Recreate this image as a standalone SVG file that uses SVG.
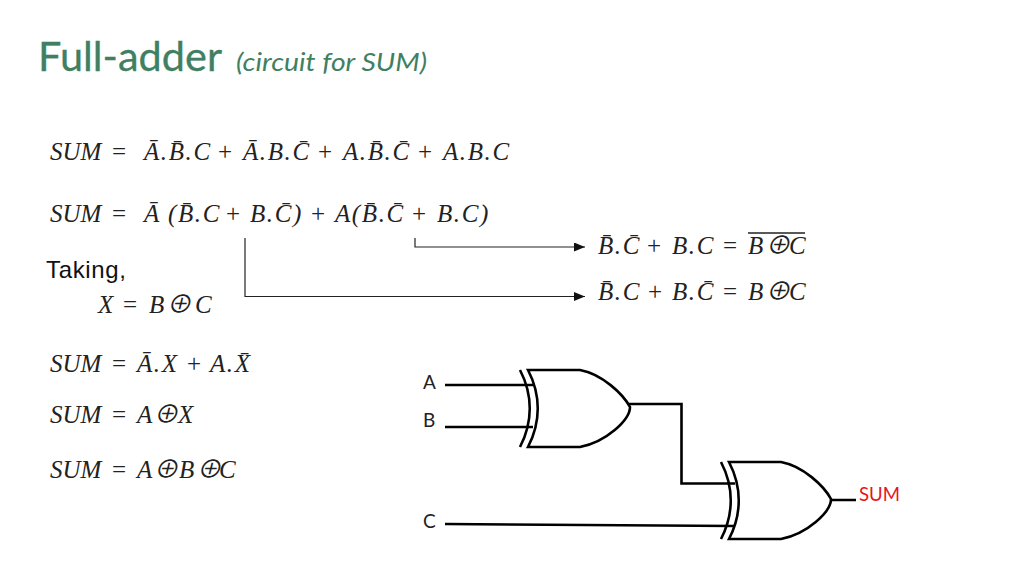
<svg xmlns="http://www.w3.org/2000/svg" width="1024" height="576" viewBox="0 0 1024 576">
<style>
.m{font-family:"Liberation Serif","DejaVu Serif",serif;font-style:italic;font-size:25px;fill:#222}
.n{font-style:normal}
.s{letter-spacing:1.6px}
.x{font-family:"Noto Sans CJK SC","DejaVu Sans",sans-serif;font-size:25px}
.l{font-family:Lato,"Liberation Sans",sans-serif;font-size:19px;fill:#222}
.g{fill:none;stroke:#000;stroke-width:2.6}
.w{fill:none;stroke:#000;stroke-width:2.6}
.t{fill:none;stroke:#222;stroke-width:1.2}
.o{stroke:#222;stroke-width:1.3}
</style>
<defs>
<marker id="ah" markerUnits="userSpaceOnUse" markerWidth="11" markerHeight="9" refX="11" refY="4.500" orient="auto"><path d="M0 0L11 4.500L0 9Z" fill="#111"/></marker>
<g id="xor"><path class="g" d="M0 0H52C74 4 95 24 102 37C102 50 78 72 52 77H0C13 52 13 25 0 0Z"/><path class="g" d="M-8 0C5 25 5 52 -8 77"/></g>
</defs>
<rect width="1024" height="576" fill="#fff"/>
<g id="title">
<text x="38" y="71" font-family="Lato,'Liberation Sans',sans-serif" font-size="40" fill="#3f8062" stroke="#3f8062" stroke-width="0.3" textLength="184" lengthAdjust="spacingAndGlyphs">Full-adder</text>
<text x="236" y="71" font-family="Lato,'Liberation Sans',sans-serif" font-size="26" font-style="italic" fill="#3f8062" textLength="191" lengthAdjust="spacingAndGlyphs">(circuit for SUM)</text>
</g>
<g id="equations">
<text class="m" y="160"><tspan x="50">SUM</tspan><tspan x="112" class="n">=</tspan><tspan x="144" class="s">Ā.B̄.C</tspan><tspan x="218" class="n">+</tspan><tspan x="243" class="s">Ā.B.C̄</tspan><tspan x="318" class="n">+</tspan><tspan x="343" class="s">A.B̄.C̄</tspan><tspan x="418" class="n">+</tspan><tspan x="443" class="s">A.B.C</tspan></text>
<text class="m" y="222"><tspan x="50">SUM</tspan><tspan x="112" class="n">=</tspan><tspan x="144">Ā</tspan><tspan x="168" class="s">(B̄.C</tspan><tspan x="226" class="n">+</tspan><tspan x="250" class="s">B.C̄)</tspan><tspan x="311" class="n">+</tspan><tspan x="335" class="s">A(B̄.C̄</tspan><tspan x="412" class="n">+</tspan><tspan x="437" class="s">B.C)</tspan></text>
<text class="m" y="313"><tspan x="98">X</tspan><tspan x="123" class="n">=</tspan><tspan x="149">B</tspan><tspan x="166" class="x">⊕</tspan><tspan x="195">C</tspan></text>
<text class="m" y="372"><tspan x="50">SUM</tspan><tspan x="112" class="n">=</tspan><tspan x="137" class="s">Ā.X</tspan><tspan x="187" class="n">+</tspan><tspan x="210" class="s">A.X̄</tspan></text>
<text class="m" y="423"><tspan x="50">SUM</tspan><tspan x="112" class="n">=</tspan><tspan x="137">A</tspan><tspan x="153" class="x">⊕</tspan><tspan x="178">X</tspan></text>
<text class="m" y="478"><tspan x="50">SUM</tspan><tspan x="112" class="n">=</tspan><tspan x="137">A</tspan><tspan x="153" class="x">⊕</tspan><tspan x="179">B</tspan><tspan x="196" class="x">⊕</tspan><tspan x="219">C</tspan></text>
<text class="m" y="254"><tspan x="598" class="s">B̄.C̄</tspan><tspan x="647" class="n">+</tspan><tspan x="672" class="s">B.C</tspan><tspan x="723" class="n">=</tspan><tspan x="748">B</tspan><tspan x="765" class="x">⊕</tspan><tspan x="789">C</tspan></text>
<line class="o" x1="748" y1="233" x2="805" y2="233"/>
<text class="m" y="300"><tspan x="598" class="s">B̄.C</tspan><tspan x="648" class="n">+</tspan><tspan x="672" class="s">B.C̄</tspan><tspan x="723" class="n">=</tspan><tspan x="748">B</tspan><tspan x="765" class="x">⊕</tspan><tspan x="789">C</tspan></text>
<text x="46" y="278" font-family="'Liberation Sans',Arial,sans-serif" font-size="24" fill="#111" textLength="80">Taking,</text>
</g>
<g id="connectors">
<path class="t" d="M415 238V247H585" marker-end="url(#ah)"/>
<path class="t" d="M245 238V296.500H585" marker-end="url(#ah)"/>
<path class="w" d="M445 385H534M445 427H533M628 404H681.500V483.500H735M445 524L735 526M831 500H856"/>
</g>
<g id="gate1"><use href="#xor" x="528" y="370"/></g>
<g id="gate2"><use href="#xor" x="729" y="462"/></g>
<g id="labels">
<text class="l" x="423" y="389">A</text>
<text class="l" x="423" y="427">B</text>
<text class="l" x="423" y="528">C</text>
<text class="l" x="859" y="501" style="fill:#e8141c" textLength="41" lengthAdjust="spacingAndGlyphs">SUM</text>
</g>
</svg>
